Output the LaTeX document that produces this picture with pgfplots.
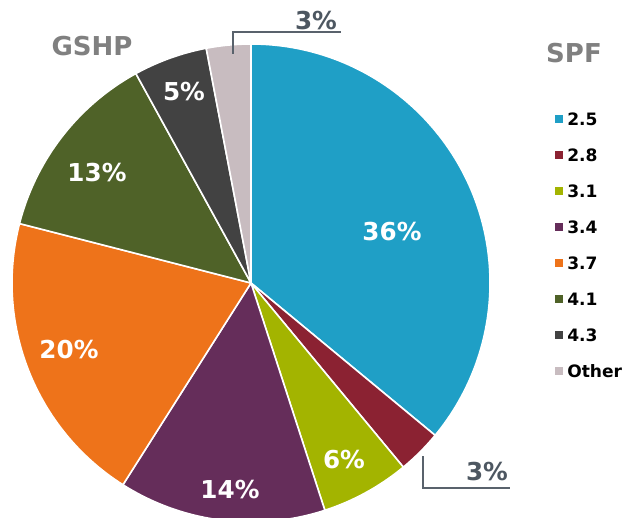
\documentclass[border=0pt]{standalone}
\usepackage{pgfplots}
\pgfplotsset{compat=1.18}
\usepackage{pgfplotstable}
\usepackage{fontspec}
\setmainfont{DejaVu Sans}
\definecolor{c1}{HTML}{1F9FC6}
\definecolor{c2}{HTML}{8B2232}
\definecolor{c3}{HTML}{A3B400}
\definecolor{c4}{HTML}{652D5A}
\definecolor{c5}{HTML}{EE731A}
\definecolor{c6}{HTML}{4F6228}
\definecolor{c7}{HTML}{424242}
\definecolor{c8}{HTML}{C8BCC0}
\definecolor{lead}{HTML}{59626C}
\definecolor{outtxt}{HTML}{4D5761}
\pgfplotstableread{
label value col
2.5 36 c1
2.8 3 c2
3.1 6 c3
3.4 14 c4
3.7 20 c5
4.1 13 c6
4.3 5 c7
Other 3 c8
}\piedata
\begin{document}
\begin{tikzpicture}
\begin{axis}[
  anchor=south west, at={(0,0)},
  scale only axis, width=478.5pt, height=387.75pt,
  xmin=0, xmax=638, ymin=0, ymax=517,
  hide axis, clip=false,
]
\pgfplotsextra{
  \gdef\cum{0}
  \foreach \i in {0,...,7} {
    \pgfplotstablegetelem{\i}{value}\of\piedata
    \let\val\pgfplotsretval
    \pgfplotstablegetelem{\i}{col}\of\piedata
    \let\col\pgfplotsretval
    \pgfmathsetmacro\aone{90-3.6*\cum}
    \pgfmathsetmacro\atwo{90-3.6*(\cum+\val)}
    \fill[fill=\col, draw=white, line width=1.2pt, line join=round]
      (axis cs:251,234) -- ++(\aone:179.25pt)
      arc[start angle=\aone, end angle=\atwo, radius=179.25pt] -- cycle;
    \pgfmathsetmacro\newcum{\cum+\val}
    \xdef\cum{\newcum}
  }
  % legend
  \foreach \i in {0,...,7} {
    \pgfplotstablegetelem{\i}{label}\of\piedata
    \let\lab\pgfplotsretval
    \pgfplotstablegetelem{\i}{col}\of\piedata
    \let\col\pgfplotsretval
    \pgfmathsetmacro\yy{398-36*\i}
    \fill[\col] (axis cs:555,\yy-4) rectangle (axis cs:563,\yy+4);
    \node[anchor=west, inner sep=0pt, font=\bfseries\fontsize{12.8}{14}\selectfont, text=black] at (axis cs:567,\yy) {\lab};
  }
}
\begin{scope}[every node/.style={font=\bfseries\fontsize{18.5}{21}\selectfont, inner sep=0pt}]
\node[text=white] at (axis cs:392,285) {36\%};
\node[text=white] at (axis cs:344,57) {6\%};
\node[text=white] at (axis cs:230,27) {14\%};
\node[text=white] at (axis cs:69,167) {20\%};
\node[text=white] at (axis cs:97,344) {13\%};
\node[text=white] at (axis cs:184,425) {5\%};
\node[text=outtxt] at (axis cs:487,45) {3\%};
\node[text=outtxt] at (axis cs:316,496) {3\%};
\end{scope}
\draw[lead, line width=1.2pt] (axis cs:423,61) -- (axis cs:423,29) -- (axis cs:510,29);
\draw[lead, line width=1.2pt] (axis cs:233,463) -- (axis cs:233,485) -- (axis cs:341,485);
\node[text=gray, font=\bfseries\fontsize{19.5}{22}\selectfont, inner sep=0pt] at (axis cs:92,471) {GSHP};
\node[text=gray, font=\bfseries\fontsize{19.5}{22}\selectfont, inner sep=0pt] at (axis cs:574,464) {SPF};
\end{axis}
\pgfresetboundingbox
\path (0,0) rectangle (478.5pt,387.75pt);
\end{tikzpicture}
\end{document}
